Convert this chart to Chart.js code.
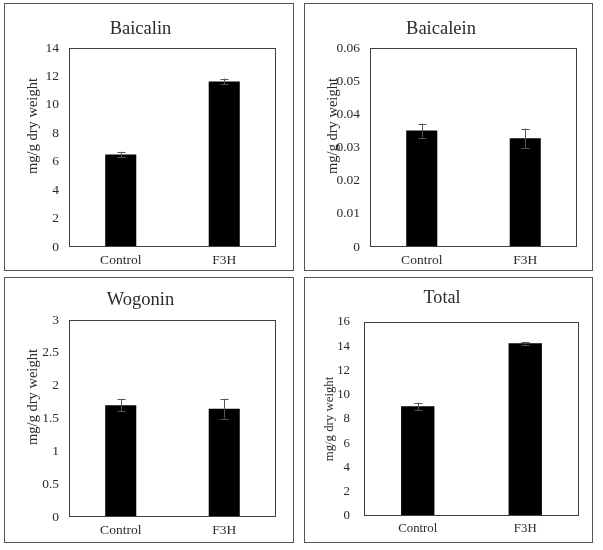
<!DOCTYPE html>
<html>
<head>
<meta charset="utf-8">
<script src="https://cdn.jsdelivr.net/npm/chart.js@4/dist/chart.umd.min.js"></script>
<style>
  html, body { margin: 0; padding: 0; background: #fff; }
  body { width: 603px; height: 550px; position: relative; overflow: hidden; }
  .panel { position: absolute; border: 1px solid #555; box-sizing: border-box; background: #fff; }
  .panel canvas { position: absolute; left: 0; top: 0; }
</style>
</head>
<body>
<script>
// ---- data ----
const categories = ['Control', 'F3H'];
const panelTitles = ['Baicalin', 'Baicalein', 'Wogonin', 'Total'];
const yAxisTitle = 'mg/g dry weight';
const baicalinMean = [6.5, 11.65];
const baicalinErr = [0.2, 0.2];
const baicaleinMean = [0.0351, 0.0328];
const baicaleinErr = [0.0021, 0.0029];
const wogoninMean = [1.70, 1.65];
const wogoninErr = [0.09, 0.15];
const totalMean = [9.05, 14.24];
const totalErr = [0.3, 0.12];
const yMax = [14, 0.06, 3, 16];
const yStep = [2, 0.01, 0.5, 2];

// ---- layout (page pixel coords) ----
const layouts = [
  { outer: [4, 3, 294, 271],   plot: [69, 48, 276, 247],   titleY: 29,  yTitle: [33, 126],  bar: 0.30, fs: 1, tp: 10, yts: 14.5 },
  { outer: [304, 3, 593, 271], plot: [370, 48, 577, 247],  titleY: 29,  yTitle: [333, 126], bar: 0.30, fs: 1, tp: 10, yts: 14.5 },
  { outer: [4, 277, 294, 543], plot: [69, 320, 276, 517],  titleY: 300, yTitle: [33, 397],  bar: 0.30, fs: 1, tp: 10, yts: 14.5 },
  { outer: [304, 277, 593, 543], plot: [364, 322, 579, 516], titleY: 298, yTitle: [330, 419], bar: 0.31, fs: 0.95, tp: 14, yts: 12.8 }
];
const means = [baicalinMean, baicaleinMean, wogoninMean, totalMean];
const errs = [baicalinErr, baicaleinErr, wogoninErr, totalErr];

const FONT = "'Liberation Serif', 'Times New Roman', serif";
const TXT = '#2b2b2b';

const errorBarPlugin = {
  id: 'errorBars',
  afterDatasetsDraw(chart) {
    const e = chart.options.plugins.errorBars;
    const meta = chart.getDatasetMeta(0);
    const ys = chart.scales.y;
    const ctx = chart.ctx;
    ctx.save();
    ctx.strokeStyle = '#555';
    ctx.lineWidth = 1;
    meta.data.forEach((el, i) => {
      const v = chart.data.datasets[0].data[i];
      const er = e.values[i];
      const x = Math.round(el.x) + 0.5;
      const yt = ys.getPixelForValue(v + er);
      const yb = ys.getPixelForValue(v - er);
      ctx.beginPath();
      ctx.moveTo(x, yt); ctx.lineTo(x, yb);
      ctx.moveTo(x - 4, Math.round(yt) + 0.5); ctx.lineTo(x + 4, Math.round(yt) + 0.5);
      ctx.moveTo(x - 4, Math.round(yb) + 0.5); ctx.lineTo(x + 4, Math.round(yb) + 0.5);
      ctx.stroke();
    });
    ctx.restore();
  },
  afterDraw(chart) {
    const ctx = chart.ctx;
    const a = chart.chartArea;
    const o = chart.options.plugins.errorBars;
    ctx.save();
    ctx.strokeStyle = '#404040';
    ctx.lineWidth = 1;
    ctx.strokeRect(Math.round(a.left) + 0.5, Math.round(a.top) + 0.5,
                   Math.round(a.right - a.left) - 1, Math.round(a.bottom - a.top) - 1);
    // y axis title
    ctx.translate(o.yTitleX, o.yTitleY);
    ctx.rotate(-Math.PI / 2);
    ctx.fillStyle = TXT;
    ctx.font = o.yTitleSize + 'px ' + FONT;
    ctx.textAlign = 'center';
    ctx.textBaseline = 'middle';
    ctx.fillText(yAxisTitle, 0, 0);
    ctx.restore();
  }
};

layouts.forEach((L, k) => {
  const [oL, oT, oR, oB] = L.outer;
  const div = document.createElement('div');
  div.className = 'panel';
  div.style.left = oL + 'px';
  div.style.top = oT + 'px';
  div.style.width = (oR - oL) + 'px';
  div.style.height = (oB - oT) + 'px';
  const cw = oR - oL - 2, ch = oB - oT - 2;
  const ox = oL + 1, oy = oT + 1;
  const cv = document.createElement('canvas');
  cv.width = cw; cv.height = ch;
  cv.style.width = cw + 'px'; cv.style.height = ch + 'px';
  div.appendChild(cv);
  document.body.appendChild(div);

  const [pL, pT, pR, pB] = L.plot;
  const tSize = 18.5 * (L.fs === 1 ? 1 : 0.98);
  const tLH = tSize * 1.2;
  const tCy = L.titleY - oy;
  const padTop = tCy - tLH / 2;
  const padBot = (pT - oy) - (tCy + tLH / 2);
  const tickSize = 13.5 * L.fs;
  const xSize = 13.5 * L.fs;

  new Chart(cv, {
    type: 'bar',
    data: {
      labels: categories,
      datasets: [{
        data: means[k],
        backgroundColor: '#000',
        borderWidth: 0,
        barPercentage: L.bar,
        categoryPercentage: 1.0
      }]
    },
    options: {
      responsive: false,
      animation: false,
      devicePixelRatio: 1,
      layout: { padding: { left: 0, top: 0, bottom: 0, right: cw - (pR - ox) } },
      plugins: {
        legend: { display: false },
        tooltip: { enabled: false },
        title: {
          display: true,
          text: panelTitles[k],
          color: TXT,
          font: { family: FONT, size: tSize, weight: 'normal' },
          padding: { top: padTop, bottom: padBot }
        },
        errorBars: {
          values: errs[k],
          yTitleX: L.yTitle[0] - ox,
          yTitleY: L.yTitle[1] - oy,
          yTitleSize: L.yts
        }
      },
      scales: {
        y: {
          min: 0,
          max: yMax[k],
          grid: { display: false, drawTicks: false },
          border: { display: false },
          ticks: {
            stepSize: yStep[k],
            padding: L.tp,
            color: TXT,
            font: { family: FONT, size: tickSize },
            callback: v => String(Number(v.toFixed(6)))
          },
          afterFit: s => { s.width = pL - ox; }
        },
        x: {
          grid: { display: false, drawTicks: false },
          border: { display: false },
          ticks: {
            padding: 5,
            color: TXT,
            font: { family: FONT, size: xSize }
          },
          afterFit: s => { s.height = ch - (pB - oy); }
        }
      }
    },
    plugins: [errorBarPlugin]
  });
});
</script>
</body>
</html>
